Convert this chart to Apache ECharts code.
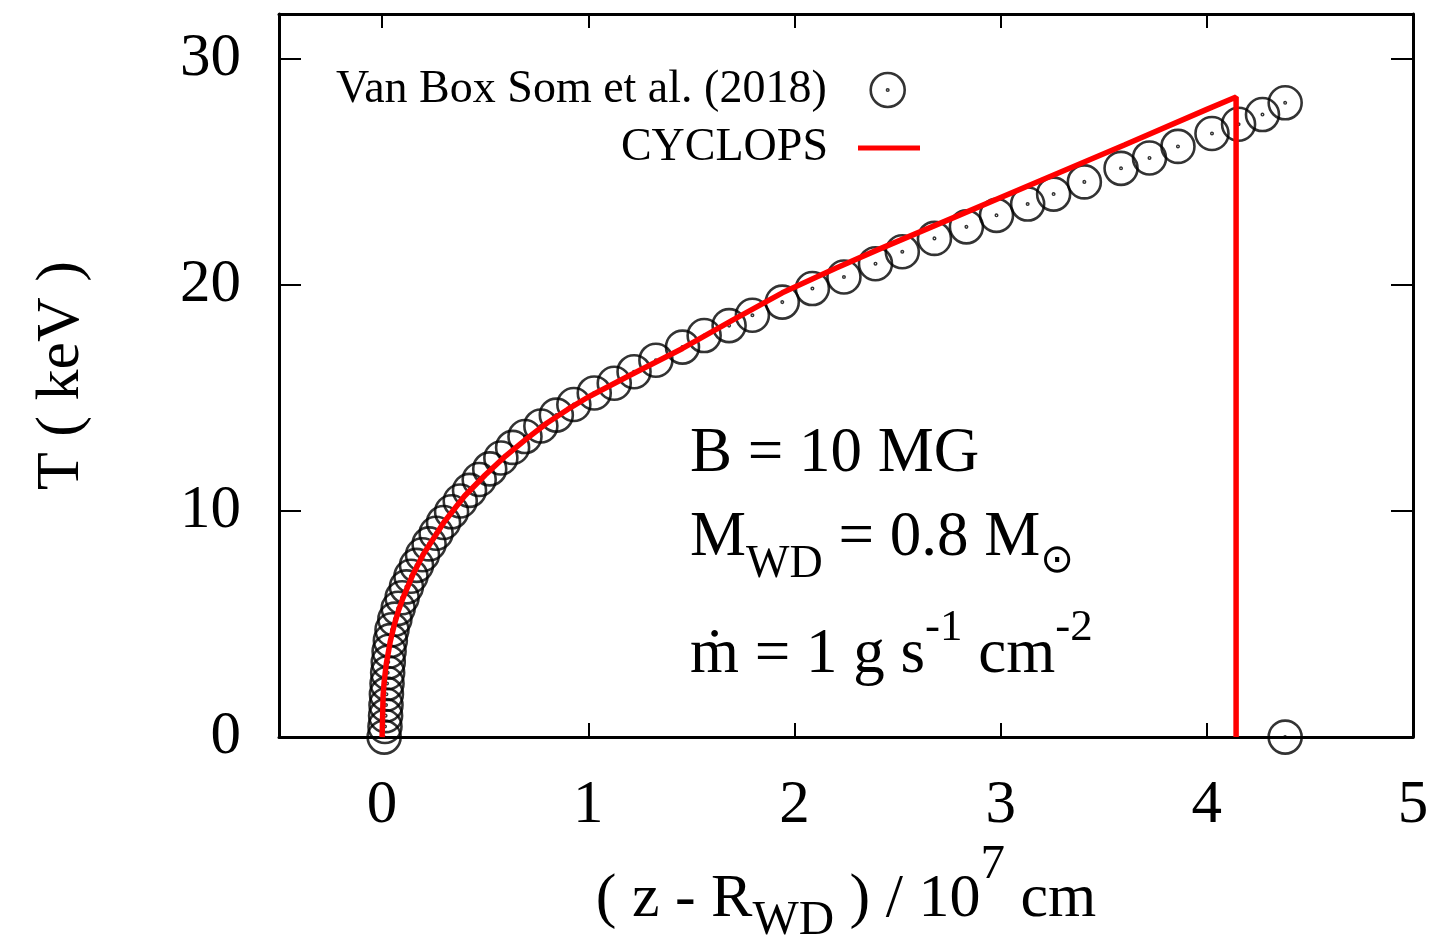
<!DOCTYPE html>
<html><head><meta charset="utf-8">
<script src="https://cdn.jsdelivr.net/npm/echarts@6/dist/echarts.min.js"></script>
<style>html,body{margin:0;padding:0;background:#fff}#c{width:1435px;height:951px}</style>
</head><body><div id="c"></div>
<script>
// ---- data ----
const xTicks = [0, 1, 2, 3, 4, 5];
const yTicks = [0, 10, 20, 30];
const seriesNames = ['Van Box Som et al. (2018)', 'CYCLOPS'];

const vbsX = [0.01,0.014,0.017,0.019,0.021,0.024,0.027,0.03,0.034,0.04,0.048,0.062,0.078,0.097,0.118,0.14,0.167,0.196,0.228,0.262,0.298,0.337,0.379,0.424,0.471,0.522,0.576,0.633,0.693,0.77,0.845,0.93,1.029,1.126,1.222,1.328,1.457,1.562,1.683,1.796,1.941,2.087,2.24,2.393,2.523,2.679,2.834,2.98,3.131,3.257,3.406,3.584,3.722,3.86,4.025,4.154,4.27,4.38,4.38];
const vbsT = [0,0.47,0.95,1.42,1.9,2.37,2.85,3.32,3.8,4.27,4.75,5.22,5.7,6.17,6.65,7.12,7.6,8.07,8.55,9.02,9.5,9.97,10.45,10.92,11.4,11.87,12.35,12.82,13.3,13.77,14.25,14.72,15.23,15.66,16.17,16.68,17.26,17.77,18.21,18.67,19.25,19.85,20.36,20.95,21.48,22.07,22.58,23.09,23.59,24.03,24.57,25.17,25.63,26.14,26.71,27.12,27.55,28.07,0];

const cycX = [0,0.005,0.01,0.02,0.04,0.06,0.08,0.1,0.15,0.2,0.3,0.4,0.5,0.6,0.7,0.8,0.9,1.0,1.2,1.457,1.7,1.941,2.2,2.4,2.8,3.2,3.6,4.0,4.142,4.142];
const cycT = [0,1.85,2.44,3.22,4.25,5.0,5.61,6.13,7.21,8.09,9.51,10.67,11.6,12.45,13.2,13.9,14.5,15.05,16.0,17.2,18.45,19.66,20.75,21.55,23.1,24.65,26.2,27.78,28.33,0];

// ---- styles ----
const SERIF = "'Liberation Serif','Times New Roman',serif";
const ring = 'path://M16,0A16,16,0,1,1,16,32A16,16,0,1,1,16,0ZM16,15.3A0.7,0.7,0,1,1,16,16.7A0.7,0.7,0,1,1,16,15.3Z';
const ringStyle = {color: 'rgba(0,0,0,0)', borderColor: '#000', borderWidth: 2.6};

const zip = (a, b) => a.map((v, i) => [v, b[i]]);

const axisBase = () => ({
  type: 'value',
  axisLine: {show: true, onZero: false, lineStyle: {color: '#000', width: 3}},
  splitLine: {show: false},
});

const chart = echarts.init(document.getElementById('c'), null, {renderer: 'canvas'});
chart.setOption({
  animation: false,
  backgroundColor: '#fff',
  grid: {left: 279, right: 22, top: 14, bottom: 204, containLabel: false},
  legend: [
    {
      data: [{name: seriesNames[0], icon: ring, itemStyle: ringStyle}],
      right: 529, top: 67, padding: 0, align: 'right', orient: 'vertical',
      itemWidth: 34, itemHeight: 34, selectedMode: false,
      textStyle: {fontFamily: SERIF, fontSize: 46, color: '#000', padding: [0, 39, 0, 0]}
    },
    {
      data: [{name: seriesNames[1], icon: 'rect', itemStyle: {color: '#ff0000'}}],
      right: 515, top: 125, padding: 0, align: 'right', orient: 'vertical',
      itemWidth: 62, itemHeight: 5, selectedMode: false,
      textStyle: {fontFamily: SERIF, fontSize: 46, color: '#000', padding: [0, 25, 0, 0]}
    }
  ],
  xAxis: [
    Object.assign(axisBase(), {
      position: 'bottom', min: -0.5, max: 5,
      axisTick: {show: true, inside: true, length: 14, lineStyle: {color: '#000', width: 2}, customValues: xTicks},
      axisLabel: {show: true, customValues: xTicks, margin: 38, fontSize: 61, fontFamily: SERIF, color: '#000'},
      name: '{m|( z - R}{s|WD}{m| ) / 10}{p|7}{m| cm}',
      nameLocation: 'middle', nameGap: 102,
      nameTextStyle: {
        rich: {
          m: {fontSize: 62, fontFamily: SERIF, color: '#000'},
          s: {fontSize: 49, fontFamily: SERIF, color: '#000', padding: [44, 0, 0, 0]},
          p: {fontSize: 49, fontFamily: SERIF, color: '#000', padding: [0, 0, 68, 0]}
        }
      }
    }),
    Object.assign(axisBase(), {
      position: 'top', min: -0.5, max: 5,
      axisTick: {show: true, inside: true, length: 14, lineStyle: {color: '#000', width: 2}, customValues: xTicks},
      axisLabel: {show: false}
    })
  ],
  yAxis: [
    Object.assign(axisBase(), {
      position: 'left', min: 0, max: 32,
      axisTick: {show: true, inside: true, length: 22, lineStyle: {color: '#000', width: 2}, customValues: yTicks},
      axisLabel: {show: true, customValues: yTicks, margin: 38, fontSize: 61, fontFamily: SERIF, color: '#000'},
      name: 'T ( keV )', nameLocation: 'middle', nameRotate: 90, nameGap: 186,
      nameTextStyle: {fontSize: 62, fontFamily: SERIF, color: '#000'}
    }),
    Object.assign(axisBase(), {
      position: 'right', min: 0, max: 32,
      axisTick: {show: true, inside: true, length: 22, lineStyle: {color: '#000', width: 2}, customValues: yTicks},
      axisLabel: {show: false}
    })
  ],
  graphic: [
    {type: 'text', x: 690, y: 454, z: 10, style: {
      text: 'B = 10 MG', fill: '#000', fontSize: 63, fontFamily: SERIF, align: 'left', verticalAlign: 'middle'}},
    {type: 'text', x: 690, y: 538, z: 10, style: {
      text: '{m|M}{s|WD}{m| = 0.8 M}{sun|⊙}', align: 'left', verticalAlign: 'middle',
      rich: {
        m: {fontSize: 63, fontFamily: SERIF, fill: '#000'},
        s: {fontSize: 46, fontFamily: SERIF, fill: '#000', padding: [54, 0, 0, 0]},
        sun: {fontSize: 40, fontFamily: "'DejaVu Sans'", fill: '#000', padding: [48, 0, 0, 0]}
      }}},
    {type: 'text', x: 690, y: 655, z: 10, style: {
      text: '{m|ṁ = 1 g s}{p|-1}{m| cm}{p|-2}', align: 'left', verticalAlign: 'middle',
      rich: {
        m: {fontSize: 63, fontFamily: SERIF, fill: '#000'},
        p: {fontSize: 45, fontFamily: SERIF, fill: '#000', padding: [0, 0, 54, 0]}
      }}}
  ],
  series: [
    {
      name: seriesNames[0], type: 'scatter', xAxisIndex: 0, yAxisIndex: 0,
      data: zip(vbsX, vbsT), symbol: ring, symbolSize: 33,
      itemStyle: ringStyle, clip: false, z: 2, silent: true
    },
    {
      name: seriesNames[1], type: 'line', xAxisIndex: 0, yAxisIndex: 0,
      data: zip(cycX, cycT), showSymbol: false, symbol: 'none',
      itemStyle: {color: '#ff0000'},
      lineStyle: {color: '#ff0000', width: 5.5}, clip: false, z: 3, silent: true
    }
  ]
});
</script></body></html>
